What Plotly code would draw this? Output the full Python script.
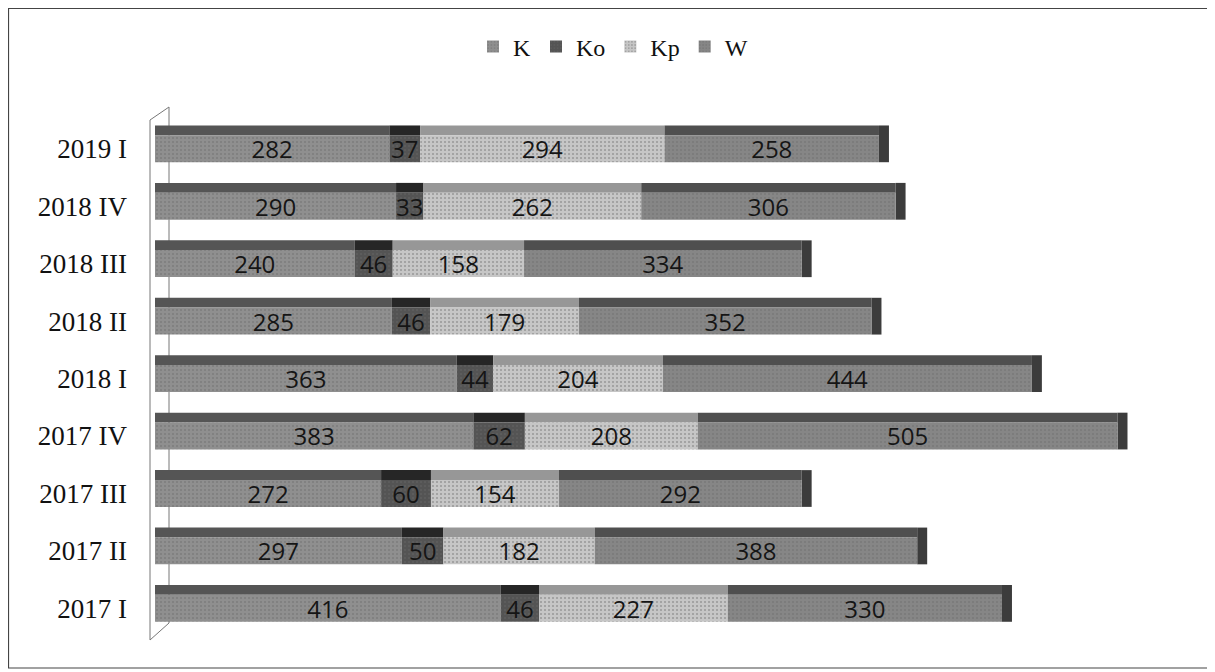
import plotly.graph_objects as go

categories = ["2017 I", "2017 II", "2017 III", "2017 IV", "2018 I", "2018 II", "2018 III", "2018 IV", "2019 I"]
K = [416, 297, 272, 383, 363, 285, 240, 290, 282]
Ko = [46, 50, 60, 62, 44, 46, 46, 33, 37]
Kp = [227, 182, 154, 208, 204, 179, 158, 262, 294]
W = [330, 388, 292, 505, 444, 352, 334, 306, 258]

series = [("K", K, "#8f8f8f", "#555555"),
          ("Ko", Ko, "#545454", "#262626"),
          ("Kp", Kp, "#c6c6c6", "#979797"),
          ("W", W, "#868686", "#4f4f4f")]

# layout geometry (figure is drawn 8px in from the page corner by the body margin)
FW, FH = 1207, 664
L, R, T, B = 147, 21, 112, 35
pw = FW - L - R
ph = FH - T - B
def px(fx):
    return (fx - L) / pw
def py(fy):
    return (FH - B - fy) / ph

FRONT_LO, FRONT_W = -0.235, 0.47   # front face of each bar (category units)
TOP_W = 0.17                       # depth strip on top
DEPTH = 12                         # depth of the end face (value units)

fig = go.Figure()
base = [0] * len(categories)
bases = []
for name, vals, col, topcol in series:
    bases.append(list(base))
    # top (depth) face
    fig.add_trace(go.Bar(
        y=categories, x=vals, base=list(base), orientation="h",
        offset=FRONT_LO + FRONT_W, width=TOP_W,
        marker=dict(color=topcol, line=dict(width=0)),
        showlegend=False, hoverinfo="skip"))
    base = [b + v for b, v in zip(base, vals)]

totals = base
fig.add_trace(go.Bar(
    y=categories, x=[DEPTH] * len(categories), base=totals, orientation="h",
    offset=FRONT_LO, width=FRONT_W + TOP_W,
    marker=dict(color="#3c3c3c", line=dict(width=0)),
    showlegend=False, hoverinfo="skip"))

for (name, vals, col, topcol), b in zip(series, bases):
    fig.add_trace(go.Bar(
        y=categories, x=vals, base=b, name=name, orientation="h",
        offset=FRONT_LO, width=FRONT_W,
        marker=dict(color=col, line=dict(width=0),
                    pattern=dict(shape=".", size=4, solidity=0.2, fgcolor="#6a6a6a", fillmode="overlay")),
        text=[str(v) for v in vals], textposition="inside", insidetextanchor="middle",
        textangle=0, constraintext="none",
        textfont=dict(family="Open Sans, DejaVu Sans, sans-serif", size=24, color="#151515"),
    ))

wall = dict(color="#777", width=1)
shapes = [
    # outer border
    dict(type="rect", xref="paper", yref="paper",
         x0=px(0.5), x1=px(1204), y0=py(660), y1=py(0.5),
         line=dict(color="#444", width=1.2), fillcolor="rgba(0,0,0,0)", layer="below"),
    # thin 3D wall at the left
    dict(type="line", xref="paper", yref="paper", x0=px(142), x1=px(142), y0=py(632), y1=py(112), line=wall, layer="below"),
    dict(type="line", xref="paper", yref="paper", x0=px(142), x1=px(161), y0=py(112), y1=py(99), line=wall, layer="below"),
    dict(type="line", xref="paper", yref="paper", x0=px(161), x1=px(161), y0=py(99), y1=py(615), line=wall, layer="below"),
    dict(type="line", xref="paper", yref="paper", x0=px(142), x1=px(161), y0=py(632), y1=py(615), line=wall, layer="below"),
]

fig.update_layout(
    barmode="overlay",
    width=FW, height=FH,
    margin=dict(l=L, r=R, t=T, b=B),
    paper_bgcolor="white", plot_bgcolor="white",
    showlegend=True,
    legend=dict(orientation="h", x=px(605), xanchor="center",
                y=py(39), yanchor="middle",
                font=dict(family="Liberation Serif, Times New Roman, serif", size=24, color="#111"),
                itemwidth=30, traceorder="normal", bgcolor="rgba(0,0,0,0)"),
    xaxis=dict(range=[0, 1250], showgrid=False, showticklabels=False, zeroline=False, showline=False),
    yaxis=dict(showgrid=False, showline=False, ticks="", zeroline=False,
               ticklabelstandoff=27, range=[-0.5, 8.5],
               tickfont=dict(family="Liberation Serif, Times New Roman, serif", size=27, color="#111")),
    shapes=shapes,
)

fig.write_html("out.html")
